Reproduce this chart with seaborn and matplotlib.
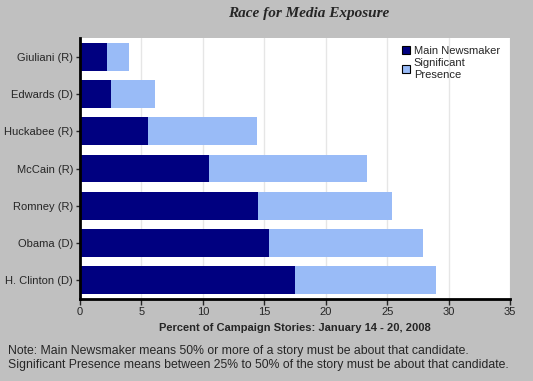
import matplotlib
matplotlib.use("Agg")
import matplotlib.pyplot as plt
import seaborn as sns
import pandas as pd
from matplotlib.patches import Patch

# data
candidates = ["Giuliani (R)", "Edwards (D)", "Huckabee (R)", "McCain (R)",
              "Romney (R)", "Obama (D)", "H. Clinton (D)"]
main_newsmaker = [2.2, 2.5, 5.5, 10.5, 14.5, 15.4, 17.5]
significant = [1.8, 3.6, 8.9, 12.9, 10.9, 12.5, 11.5]
x_ticks = [0, 5, 10, 15, 20, 25, 30, 35]

df = pd.DataFrame({"Candidate": candidates,
                   "Main": main_newsmaker,
                   "Significant": significant})
df["Total"] = df["Main"] + df["Significant"]

dark = "#000080"
light = "#99BBF7"
bg = "#C0C0C0"

sns.set_style("white")
plt.rcParams["font.family"] = ["Liberation Sans", "DejaVu Sans"]

fig = plt.figure(figsize=(5.33, 3.81), dpi=100, facecolor=bg)
ax = fig.add_axes([80 / 533, 1 - 299 / 381, 430 / 533, 261 / 381])
ax.set_facecolor("white")

# stacked: totals in light blue, main part drawn on top
sns.barplot(data=df, x="Total", y="Candidate", color=light, width=0.75,
            saturation=1, linewidth=0, edgecolor="none", ax=ax, zorder=2)
sns.barplot(data=df, x="Main", y="Candidate", color=dark, width=0.75,
            saturation=1, linewidth=0, edgecolor="none", ax=ax, zorder=3)

ax.set_xlim(0, 35)
ax.set_ylim(6.5, -0.5)
ax.set_xticks(x_ticks)
ax.set_xticklabels([str(t) for t in x_ticks], fontsize=8)
ax.tick_params(axis="y", labelsize=8, length=3, width=1, left=True, pad=2)
ax.tick_params(axis="x", length=4, width=1, bottom=True, pad=2)
ax.xaxis.grid(True, color="#E6E6E6", linewidth=1, zorder=0)
ax.set_axisbelow(True)
for s in ["top", "right"]:
    ax.spines[s].set_visible(False)
for s in ["left", "bottom"]:
    ax.spines[s].set_color("black")
    ax.spines[s].set_linewidth(2)
    ax.spines[s].set_zorder(5)
ax.set_ylabel("")
ax.set_xlabel("Percent of Campaign Stories: January 14 - 20, 2008",
              fontsize=8, fontweight="bold", labelpad=4)

handles = [Patch(facecolor=dark, edgecolor="black", linewidth=0.8),
           Patch(facecolor=light, edgecolor="black", linewidth=0.8)]
ax.legend(handles, ["Main Newsmaker", "Significant\nPresence"],
          loc="upper right", bbox_to_anchor=(0.995, 1.0), frameon=False,
          fontsize=8, handlelength=0.7, handleheight=0.7,
          handletextpad=0.4, labelspacing=0.2, borderaxespad=0.3)

fig.text(0.58, 0.965, "Race for Media Exposure", ha="center", va="center",
         fontsize=11, fontweight="bold", fontstyle="italic",
         family=["Liberation Serif", "DejaVu Serif"])

fig.text(8 / 533, 1 - 358 / 381,
         "Note: Main Newsmaker means 50% or more of a story must be about that candidate.\n"
         "Significant Presence means between 25% to 50% of the story must be about that candidate.",
         ha="left", va="center", fontsize=8.8, linespacing=1.2)

fig.savefig("out.png", dpi=100, facecolor=bg)
